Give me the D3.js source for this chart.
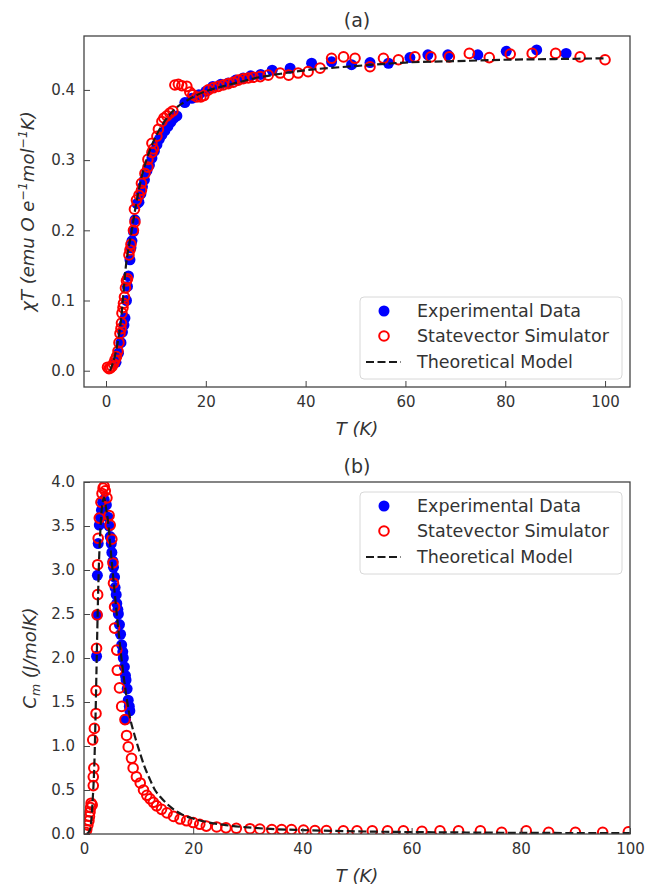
<!DOCTYPE html>
<html>
<head>
<meta charset="utf-8">
<script src="https://cdn.jsdelivr.net/npm/d3@7"></script>
<style>
  body { margin: 0; background: #fff; }
  text { font-family: "DejaVu Sans", sans-serif; fill: #333; }
</style>
</head>
<body>
<svg id="fig" width="659" height="893"></svg>
<script>
// ---- panel (a): chi*T vs T ----
const expA = [[2.0,0.012],[2.5,0.025],[3.0,0.04],[3.3,0.055],[3.6,0.065],[3.8,0.075],[4.1,0.1],[4.3,0.12],[4.5,0.135],[4.8,0.158],[5.0,0.175],[5.2,0.185],[5.5,0.198],[5.8,0.215],[6.2,0.238],[6.6,0.24],[7.0,0.252],[7.3,0.262],[7.7,0.272],[8.2,0.285],[8.7,0.293],[9.2,0.303],[9.7,0.313],[10.2,0.322],[10.7,0.33],[11.2,0.336],[11.8,0.342],[12.4,0.348],[13.0,0.354],[13.6,0.36],[14.2,0.363],[15.8,0.382],[17.2,0.388],[18.6,0.393],[20.0,0.398],[21.4,0.405],[23.0,0.408],[24.5,0.41],[26.0,0.414],[27.5,0.417],[29.0,0.42],[31.0,0.422],[33.3,0.428],[36.9,0.431],[41.2,0.438],[45.2,0.44],[49.2,0.436],[52.9,0.439],[56.6,0.438],[60.9,0.446],[64.5,0.45],[68.5,0.45],[74.5,0.45],[80.2,0.455],[86.3,0.457],[92.2,0.452]];
const simA = [[0.3,0.005],[0.6,0.003],[0.9,0.004],[1.2,0.006],[1.5,0.01],[1.8,0.015],[2.1,0.02],[2.4,0.028],[2.6,0.04],[2.8,0.053],[3.0,0.06],[3.1,0.068],[3.2,0.082],[3.4,0.09],[3.5,0.096],[3.7,0.105],[3.9,0.118],[4.1,0.128],[4.3,0.131],[4.6,0.165],[4.8,0.172],[5.0,0.18],[5.5,0.2],[5.8,0.212],[5.7,0.23],[6.1,0.243],[6.6,0.25],[7.1,0.257],[7.1,0.267],[7.8,0.281],[8.4,0.29],[8.4,0.301],[9.2,0.311],[9.5,0.316],[9.2,0.324],[10.2,0.334],[10.5,0.344],[11.2,0.355],[11.6,0.36],[12.2,0.363],[12.8,0.367],[13.4,0.37],[13.8,0.407],[14.5,0.408],[15.2,0.406],[16.2,0.405],[16.8,0.397],[17.4,0.393],[18.2,0.39],[19.0,0.39],[19.6,0.392],[20.5,0.4],[21.5,0.403],[22.5,0.405],[23.5,0.407],[24.5,0.409],[25.5,0.411],[26.5,0.414],[27.5,0.416],[28.5,0.417],[29.5,0.418],[30.9,0.419],[32.5,0.421],[34.9,0.424],[36.6,0.421],[38.5,0.424],[40.5,0.426],[42.9,0.431],[45.2,0.445],[47.6,0.447],[49.9,0.445],[52.9,0.433],[55.6,0.445],[58.6,0.443],[61.9,0.447],[65.1,0.447],[68.8,0.447],[72.8,0.452],[76.8,0.446],[81.0,0.451],[85.4,0.452],[90.1,0.452],[95.0,0.447],[100.0,0.443]];
const theoA = [[0.8,0.0],[2,0.028],[3,0.072],[4,0.15],[5,0.193],[6,0.236],[7,0.272],[8,0.298],[9,0.318],[10,0.334],[12,0.358],[14,0.374],[16,0.384],[18,0.392],[20,0.398],[25,0.408],[30,0.417],[35,0.423],[40,0.428],[50,0.434],[60,0.439],[70,0.441],[80,0.443],[90,0.444],[100,0.445]];

// ---- panel (b): magnetic heat capacity vs T ----
const expB = [[2.3,2.02],[2.4,2.49],[2.45,2.94],[2.6,3.3],[2.8,3.51],[3.0,3.6],[3.2,3.68],[3.4,3.77],[3.7,3.8],[4.1,3.74],[4.4,3.6],[4.6,3.5],[4.8,3.38],[5.0,3.3],[5.1,3.2],[5.3,3.1],[5.4,3.03],[5.6,2.92],[5.7,2.8],[5.9,2.72],[6.0,2.62],[6.2,2.55],[6.3,2.5],[6.5,2.38],[6.7,2.27],[6.9,2.15],[7.1,2.07],[7.2,2.0],[7.4,1.9],[7.6,1.8],[7.7,1.75],[7.9,1.65],[8.1,1.52],[8.3,1.45],[8.4,1.4],[7.6,1.3]];
const simB = [[0.3,0.02],[0.5,0.05],[0.7,0.1],[0.9,0.15],[1.0,0.2],[1.1,0.25],[1.2,0.3],[1.3,0.35],[1.5,0.33],[1.7,0.55],[1.7,0.65],[1.8,0.75],[1.6,1.07],[1.9,1.2],[2.2,1.37],[2.2,1.63],[2.3,2.11],[2.4,2.49],[2.5,2.72],[2.5,3.06],[2.6,3.36],[2.8,3.59],[3.1,3.77],[3.3,3.87],[3.5,3.93],[3.7,3.95],[3.9,3.9],[4.2,3.82],[4.6,3.62],[4.8,3.51],[5.1,3.35],[5.3,3.08],[5.4,2.85],[5.6,2.58],[5.6,2.34],[6.0,2.09],[6.1,1.86],[6.5,1.66],[6.9,1.45],[7.5,1.3],[7.8,1.12],[8.1,0.99],[8.7,0.86],[9.0,0.75],[9.6,0.65],[10.3,0.58],[10.9,0.5],[11.5,0.44],[12.1,0.4],[12.7,0.36],[13.3,0.32],[14.2,0.28],[15.2,0.24],[16.4,0.2],[17.6,0.17],[18.8,0.15],[20.0,0.13],[21.2,0.11],[22.4,0.09],[24.3,0.08],[26.0,0.07],[27.9,0.065],[30.4,0.06],[32.2,0.055],[34.4,0.05],[36.2,0.05],[38.0,0.05],[40.2,0.045],[42.3,0.04],[44.4,0.04],[47.5,0.035],[50.0,0.035],[52.8,0.035],[55.6,0.035],[58.5,0.035],[61.9,0.03],[65.2,0.035],[68.6,0.035],[72.6,0.035],[76.5,0.02],[81.0,0.035],[85.1,0.02],[90.0,0.02],[95.0,0.02],[99.7,0.025]];
const theoB = [[0.5,0.0],[1.1,0.05],[1.6,0.4],[1.9,0.8],[2.1,1.3],[2.3,1.9],[2.5,2.5],[2.7,3.0],[3.0,3.45],[3.3,3.72],[3.7,3.82],[4.0,3.72],[4.5,3.5],[5.0,3.15],[5.5,2.82],[6.0,2.5],[6.5,2.2],[7.0,1.92],[7.5,1.68],[8.0,1.47],[8.5,1.3],[9.0,1.18],[10,0.97],[11,0.78],[12,0.63],[13,0.5],[14,0.42],[16,0.3],[18,0.22],[20,0.175],[23,0.13],[26,0.1],[30,0.075],[35,0.055],[40,0.045],[50,0.03],[60,0.022],[70,0.017],[80,0.013],[90,0.011],[100,0.009]];

const xTicks = [0, 20, 40, 60, 80, 100];
const yTicksA = [0.0, 0.1, 0.2, 0.3, 0.4];
const yTicksB = [0.0, 0.5, 1.0, 1.5, 2.0, 2.5, 3.0, 3.5, 4.0];
const legendLabels = ["Experimental Data", "Statevector Simulator", "Theoretical Model"];

const svg = d3.select("#fig");

function drawPanel(opt) {
  const g = svg.append("g");
  const x = d3.scaleLinear().domain(opt.xDomain).range([opt.left, opt.right]);
  const y = d3.scaleLinear().domain(opt.yDomain).range([opt.bottom, opt.top]);

  g.append("clipPath").attr("id", opt.id + "clip")
    .append("rect")
    .attr("x", opt.left).attr("y", opt.top)
    .attr("width", opt.right - opt.left).attr("height", opt.bottom - opt.top);

  const plot = g.append("g").attr("clip-path", "url(#" + opt.id + "clip)");

  plot.selectAll("circle.exp").data(opt.exp).join("circle")
    .attr("class", "exp")
    .attr("cx", d => x(d[0])).attr("cy", d => y(d[1]))
    .attr("r", 5.5).attr("fill", "#0000ff");

  plot.selectAll("circle.sim").data(opt.sim).join("circle")
    .attr("class", "sim")
    .attr("cx", d => x(d[0])).attr("cy", d => y(d[1]))
    .attr("r", 4.8).attr("fill", "none")
    .attr("stroke", "#ff0000").attr("stroke-width", 2);

  const line = d3.line().x(d => x(d[0])).y(d => y(d[1])).curve(d3.curveMonotoneX);
  plot.append("path").datum(opt.theo)
    .attr("d", line).attr("fill", "none")
    .attr("stroke", "#1a1a1a").attr("stroke-width", 2.2)
    .attr("stroke-dasharray", "8,3.5");

  // axes, ticks pointing inward
  const xAxis = d3.axisBottom(x).tickValues(xTicks).tickFormat(d3.format("d"))
    .tickSizeInner(-6).tickSizeOuter(0).tickPadding(9);
  const yAxis = d3.axisLeft(y).tickValues(opt.yTicks).tickFormat(d3.format(".1f"))
    .tickSizeInner(-6).tickSizeOuter(0).tickPadding(9);

  const gx = g.append("g").attr("transform", "translate(0," + opt.bottom + ")").call(xAxis);
  const gy = g.append("g").attr("transform", "translate(" + opt.left + ",0)").call(yAxis);
  [gx, gy].forEach(a => {
    a.select(".domain").remove();
    a.selectAll("line").attr("stroke", "#444");
    a.selectAll("text").style("font-size", "15px").attr("fill", "#333");
  });

  g.append("rect")
    .attr("x", opt.left).attr("y", opt.top)
    .attr("width", opt.right - opt.left).attr("height", opt.bottom - opt.top)
    .attr("fill", "none").attr("stroke", "#444").attr("stroke-width", 1.3);

  // title
  g.append("text").attr("x", (opt.left + opt.right) / 2).attr("y", opt.top - 9)
    .attr("text-anchor", "middle").style("font-size", "19px").text(opt.title);

  // x label
  g.append("text").attr("x", (opt.left + opt.right) / 2).attr("y", opt.bottom + 48)
    .attr("text-anchor", "middle").style("font-size", "18px")
    .style("font-style", "italic").text("T (K)");

  // y label
  const yl = g.append("text")
    .attr("transform", "translate(" + opt.yLabelX + "," + ((opt.top + opt.bottom) / 2) + ") rotate(-90)")
    .attr("text-anchor", "middle").style("font-size", "18px").style("font-style", "italic");
  opt.yLabel(yl);

  // legend
  const lg = g.append("g").attr("transform", "translate(" + opt.legX + "," + opt.legY + ")");
  lg.append("rect").attr("width", 262).attr("height", 82).attr("rx", 4)
    .attr("fill", "#fff").attr("fill-opacity", 0.8)
    .attr("stroke", "#d8d8d8").attr("stroke-width", 1);
  const rows = [14, 39, 65];
  lg.append("circle").attr("cx", 24).attr("cy", rows[0]).attr("r", 5.5).attr("fill", "#0000ff");
  lg.append("circle").attr("cx", 24).attr("cy", rows[1]).attr("r", 4.8)
    .attr("fill", "none").attr("stroke", "#ff0000").attr("stroke-width", 2);
  lg.append("line").attr("x1", 6).attr("x2", 41).attr("y1", rows[2]).attr("y2", rows[2])
    .attr("stroke", "#1a1a1a").attr("stroke-width", 2.2).attr("stroke-dasharray", "8,3.5");
  legendLabels.forEach((t, i) => {
    lg.append("text").attr("x", 57).attr("y", rows[i] + 6)
      .style("font-size", "17.5px").text(t);
  });
}

drawPanel({
  id: "a", title: "(a)",
  left: 84, right: 630, top: 36, bottom: 387,
  xDomain: [-4.41, 105.0], yDomain: [-0.0232, 0.4768],
  yTicks: yTicksA,
  exp: expA, sim: simA, theo: theoA,
  legX: 360, legY: 297, yLabelX: 34,
  yLabel: t => {
    t.append("tspan").text("χT (emu O e");
    t.append("tspan").attr("dy", -7).style("font-size", "12.5px").text("−1");
    t.append("tspan").attr("dy", 7).text("mol");
    t.append("tspan").attr("dy", -7).style("font-size", "12.5px").text("−1");
    t.append("tspan").attr("dy", 7).text("K)");
  }
});

drawPanel({
  id: "b", title: "(b)",
  left: 84, right: 630, top: 482, bottom: 834,
  xDomain: [0, 100], yDomain: [0, 4],
  yTicks: yTicksB,
  exp: expB, sim: simB, theo: theoB,
  legX: 360, legY: 492, yLabelX: 36,
  yLabel: t => {
    t.append("tspan").text("C");
    t.append("tspan").attr("dy", 4).style("font-size", "12.5px").text("m");
    t.append("tspan").attr("dy", -4).text("  (J/molK)");
  }
});
</script>
</body>
</html>
